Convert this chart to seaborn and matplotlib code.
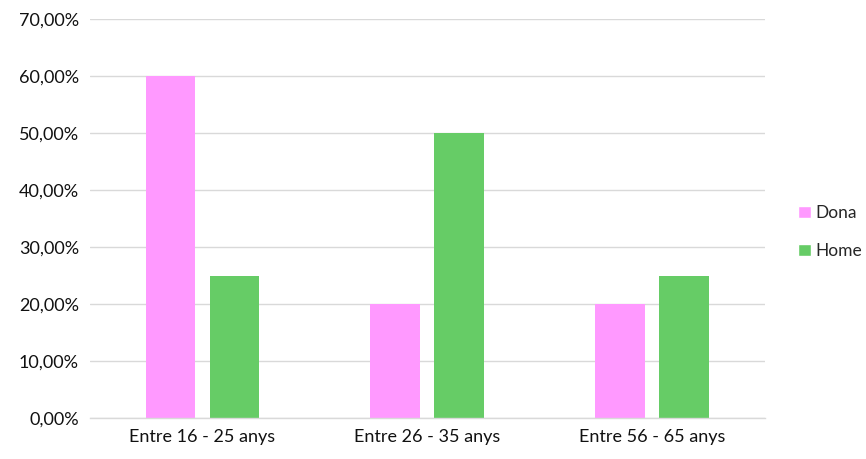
import matplotlib
matplotlib.use("Agg")
import matplotlib.pyplot as plt
import seaborn as sns
import pandas as pd
from matplotlib.ticker import FuncFormatter, MultipleLocator
from matplotlib.patches import Patch

categories = ["Entre 16 - 25 anys", "Entre 26 - 35 anys", "Entre 56 - 65 anys"]
dona = [0.60, 0.20, 0.20]
home = [0.25, 0.50, 0.25]
series = ["Dona", "Home"]
colors = ["#FF99FF", "#66CC66"]

df = pd.DataFrame({
    "cat": categories * 2,
    "val": dona + home,
    "serie": ["Dona"] * 3 + ["Home"] * 3,
})

sns.set_style("white")
plt.rcParams["font.family"] = ["Lato", "DejaVu Sans"]

fig = plt.figure(figsize=(8.66, 4.59), dpi=100)
ax = fig.add_axes([0.104, 0.0893, 0.779, 0.8693])
sns.barplot(data=df, x="cat", y="val", hue="serie", palette=colors,
            width=0.569, gap=0.22, ax=ax, legend=False, saturation=1,
            linewidth=0)

ax.set_ylim(0, 0.70)
ax.set_xlim(-0.5, 2.5)
ax.yaxis.set_major_locator(MultipleLocator(0.10))
ax.yaxis.set_major_formatter(FuncFormatter(lambda v, p: f"{v*100:.2f}%".replace(".", ",")))
ax.grid(axis="y", color="#D9D9D9", linewidth=1)
ax.set_axisbelow(True)
for s in ["top", "right", "left"]:
    ax.spines[s].set_visible(False)
ax.spines["bottom"].set_color("#D9D9D9")
ax.spines["bottom"].set_linewidth(1)
ax.set_xlabel("")
ax.set_ylabel("")
ax.tick_params(axis="both", length=0, labelsize=13, colors="#111111", pad=8)

handles = [Patch(facecolor=c, label=s) for c, s in zip(colors, series)]
fig.legend(handles=handles, loc="center left", bbox_to_anchor=(0.908, 0.494),
           frameon=False, fontsize=12.5, handlelength=0.7, handleheight=0.7,
           handletextpad=0.25, labelspacing=1.25, borderpad=0.2)

fig.savefig("out.png", dpi=100)
